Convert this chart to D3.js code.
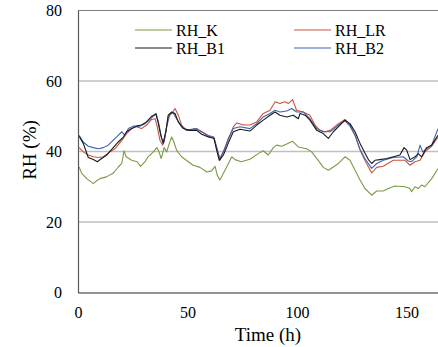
<!DOCTYPE html>
<html>
<head><meta charset="utf-8">
<script src="https://cdn.jsdelivr.net/npm/d3@7"></script>
</head>
<body style="margin:0">
<svg id="chart" width="438" height="347"></svg>
<script>
// Relative humidity time series (hours, %RH)
const hoursK = [0.5,1.7,4,7,8.5,10,13,16,18.4,20,21,22,24.5,27,28.6,30.6,32,34.4,36,37,38,39.3,40.5,41.7,42.8,43.8,45,47.3,50.4,52.6,55.7,58.8,61,62.6,63.6,64.8,66.4,67.9,70.2,71.7,74.5,78.5,82.3,84.6,86.9,89.2,90.7,93,95.3,98,100.6,104.4,106.7,109.7,112,114.3,116.6,118.9,121.9,124.2,126.5,128.8,131,134.1,136.4,139.4,141.7,144.7,149.3,151.6,152.3,153.9,155.4,156.9,158.4,161.5,164.4];
const rhK = [35.6,33.8,32.3,30.9,31.7,32.3,32.8,33.8,35.6,36.6,40.2,38.5,37.5,37.1,35.8,37.1,38.5,39.9,41.1,39.9,38.0,41.1,39.9,42.3,44.1,42.7,40.4,38.5,37.1,36.1,35.5,34.2,34.5,35.8,33.3,31.9,33.8,35.6,38.5,37.7,37.1,37.8,39.4,40.2,39.0,41.1,41.8,41.5,42.1,42.9,41.3,40.8,39.9,37.5,35.5,34.7,35.6,36.6,38.5,37.5,34.7,31.9,29.5,27.6,28.8,28.8,29.5,30.2,30.0,29.5,28.6,30.0,29.5,30.5,30.0,32.3,35.2];

const hoursLR = [0.5,2.4,4.7,7,9.3,11.6,14.6,16.9,18.9,20.7,22.2,24.5,26.8,29,31.3,33.6,35.2,36.2,37.4,38.7,39.7,41.2,42.8,44.3,45.8,47.3,49.6,52.6,54.2,56.5,59.5,61.8,63.3,64.8,66.4,68.6,70.9,72.5,75.5,78.5,81.6,84.6,87.7,90,92.2,94.5,96,98,99.8,102.9,105.9,108.2,110.5,112.8,115.1,118.1,121.9,124.2,126.5,128.8,131,134.1,136.4,139.4,144,149.3,151.6,153.9,156.2,158.4,161.5,164.4];
const rhLR = [41.1,39.9,39.0,38.5,38.3,38.5,39.9,40.8,42.3,43.7,45.1,46.5,47.0,46.5,47.5,49.1,49.3,47.0,43.2,41.8,44.1,49.8,50.8,52.2,50.3,47.5,46.0,46.0,46.5,45.6,44.6,44.1,41.3,37.5,39.9,43.2,47.0,48.1,47.5,47.5,48.4,50.8,51.7,54.1,53.6,54.1,53.6,54.7,51.7,51.2,50.3,47.5,46.0,45.6,46.0,47.5,49.1,47.5,44.6,40.4,37.5,33.9,35.5,35.8,37.5,37.5,36.1,37.1,37.5,39.9,41.5,44.1];

const hoursB1 = [0.5,2.4,4.7,7,8.8,10.8,13.1,16.1,18.4,20.7,22.2,24.5,26.8,29,31.3,33.6,35.6,36.7,37.8,38.9,40.2,41.2,42.8,44.3,45.8,48.1,51.1,54.2,56.5,59.5,62.1,63.3,64.5,66.4,68.6,70.9,74,78.5,81.6,84.6,87.7,90,92.2,95.3,98.3,100.6,101.4,103.7,105.9,109,112,114.3,116.6,119.6,121.9,124.2,126.5,128.8,131,132.6,134.1,135.6,137.9,141,144,147,148.9,150.1,151.6,153.9,155.4,156.9,159.2,161.5,164.4];
const rhB1 = [44.3,42.3,38.3,37.7,37.1,38.0,39.0,41.1,42.7,44.1,45.6,46.5,47.2,47.5,48.4,50.0,50.6,47.9,44.6,42.3,46.0,50.3,51.2,50.8,48.4,46.5,46.0,46.0,44.9,44.1,43.7,40.4,37.5,39.0,42.3,45.6,46.3,45.8,47.5,48.9,50.3,51.2,50.3,49.8,50.3,49.3,50.8,50.3,48.9,46.0,45.1,43.7,45.6,47.5,48.9,47.9,45.6,42.3,39.6,37.7,36.6,37.5,37.7,38.0,38.5,39.0,41.1,40.4,37.7,38.5,39.4,38.5,41.1,41.8,44.6];

const hoursB2 = [0.5,2.4,4.7,7,9.3,11.6,13.8,16.1,18.4,20,21.5,23,25.3,28.3,30.6,32.9,35.6,36.7,38.2,39.3,40.5,42,43.5,45,47.3,49.6,53.4,56.5,59.5,62.1,63.3,64.8,66.7,68.6,70.9,74,78.5,81.6,84.6,87.7,90,92.2,95.3,97.6,99.8,102.9,105.9,109,112,115.1,118.9,121.9,124.2,126.5,128.8,131,134.1,136.4,139.4,144,148.5,150.8,152.3,154.7,156.2,157.4,159.2,161.5,164.4];
const rhB2 = [44.6,42.7,41.5,41.1,40.8,41.1,41.8,43.2,44.6,45.6,44.6,46.5,47.2,47.2,47.9,49.1,50.8,48.4,43.7,42.7,47.0,50.8,50.9,49.3,47.0,46.0,46.5,45.6,44.3,44.0,41.1,38.0,40.4,43.7,46.5,47.0,46.5,47.9,49.8,50.8,51.7,51.2,51.5,52.2,51.2,51.2,49.3,46.5,45.6,45.6,47.5,48.7,47.2,44.6,40.6,38.0,35.2,36.6,37.5,38.3,38.5,37.3,37.1,38.5,41.8,39.9,40.8,41.8,46.5];

const seriesNames = ["RH_K", "RH_LR", "RH_B1", "RH_B2"];
const seriesColors = ["#7A9A45", "#C9553F", "#1a1a1a", "#3A64AE"];
const yTicks = [0, 20, 40, 60, 80];
const xTicks = [0, 50, 100, 150];

const FONT = "Times New Roman";

const series = [
  { name: seriesNames[0], color: seriesColors[0], pts: hoursK.map((t, i) => [t, rhK[i]]) },
  { name: seriesNames[1], color: seriesColors[1], pts: hoursLR.map((t, i) => [t, rhLR[i]]) },
  { name: seriesNames[2], color: seriesColors[2], pts: hoursB1.map((t, i) => [t, rhB1[i]]) },
  { name: seriesNames[3], color: seriesColors[3], pts: hoursB2.map((t, i) => [t, rhB2[i]]) }
];

const svg = d3.select("#chart");
const plotLeft = 78, plotTop = 10.5, plotBottom = 292.5;
const x = d3.scaleLinear().domain([0, 170]).range([plotLeft, plotLeft + 170 * 2.19]);
const y = d3.scaleLinear().domain([0, 80]).range([plotBottom, plotTop]);

// horizontal gridlines
svg.append("g").selectAll("line")
  .data(yTicks.filter(v => v > 0 && v < 80))
  .join("line")
  .attr("x1", plotLeft).attr("x2", 438)
  .attr("y1", d => y(d)).attr("y2", d => y(d))
  .attr("stroke", "#BFBFBF").attr("stroke-width", 1.5);

// top border of the plot area
svg.append("line")
  .attr("x1", plotLeft).attr("x2", 438)
  .attr("y1", y(80)).attr("y2", y(80))
  .attr("stroke", "#7f7f7f").attr("stroke-width", 1);

// plot clip
svg.append("clipPath").attr("id", "plot-clip")
  .append("rect").attr("x", plotLeft).attr("y", plotTop)
  .attr("width", 438 - plotLeft).attr("height", plotBottom - plotTop);

const line = d3.line().x(d => x(d[0])).y(d => y(d[1]));
const order = [0, 1, 3, 2];
svg.append("g").attr("clip-path", "url(#plot-clip)")
  .selectAll("path")
  .data(order.map(i => series[i]))
  .join("path")
  .attr("d", d => line(d.pts))
  .attr("fill", "none")
  .attr("stroke", d => d.color)
  .attr("stroke-width", 1.1)
  .attr("stroke-linejoin", "round");

// axes
const yAxis = d3.axisLeft(y).tickValues(yTicks).tickSize(0).tickPadding(16).tickFormat(d3.format("d"));
const gy = svg.append("g").attr("transform", `translate(${plotLeft},0)`).call(yAxis)
  .attr("font-family", FONT).attr("font-size", 16);
gy.select(".domain").attr("stroke", "#595959").attr("stroke-width", 1.2);
gy.selectAll("text").attr("font-family", FONT).attr("font-size", 16).attr("fill", "#000");

const xAxis = d3.axisBottom(x).tickValues(xTicks).tickSize(0).tickPadding(14).tickFormat(d3.format("d"));
const gx = svg.append("g").attr("transform", `translate(0,${plotBottom})`).call(xAxis)
  .attr("font-family", FONT).attr("font-size", 16);
gx.select(".domain").attr("stroke", "#262626").attr("stroke-width", 1.2);
gx.selectAll("text").attr("font-family", FONT).attr("font-size", 16).attr("fill", "#000");

// axis titles
svg.append("text")
  .attr("x", 268).attr("y", 341)
  .attr("text-anchor", "middle")
  .attr("font-family", FONT).attr("font-size", 19)
  .text("Time (h)");

svg.append("text")
  .attr("transform", "translate(36,150) rotate(-90)")
  .attr("text-anchor", "middle")
  .attr("font-family", FONT).attr("font-size", 19)
  .text("RH (%)");

// legend
const legendPos = [[135, 30], [294, 30], [135, 48], [294, 48]];
const lg = svg.append("g").selectAll("g")
  .data(series)
  .join("g")
  .attr("transform", (d, i) => `translate(${legendPos[i][0]},${legendPos[i][1]})`);
lg.append("line").attr("x1", 0).attr("x2", 37).attr("y1", 0).attr("y2", 0)
  .attr("stroke", d => d.color).attr("stroke-width", 1.2);
lg.append("text").attr("x", 41).attr("y", 5.5)
  .attr("font-family", FONT).attr("font-size", 16)
  .text(d => d.name);
</script>
</body>
</html>
